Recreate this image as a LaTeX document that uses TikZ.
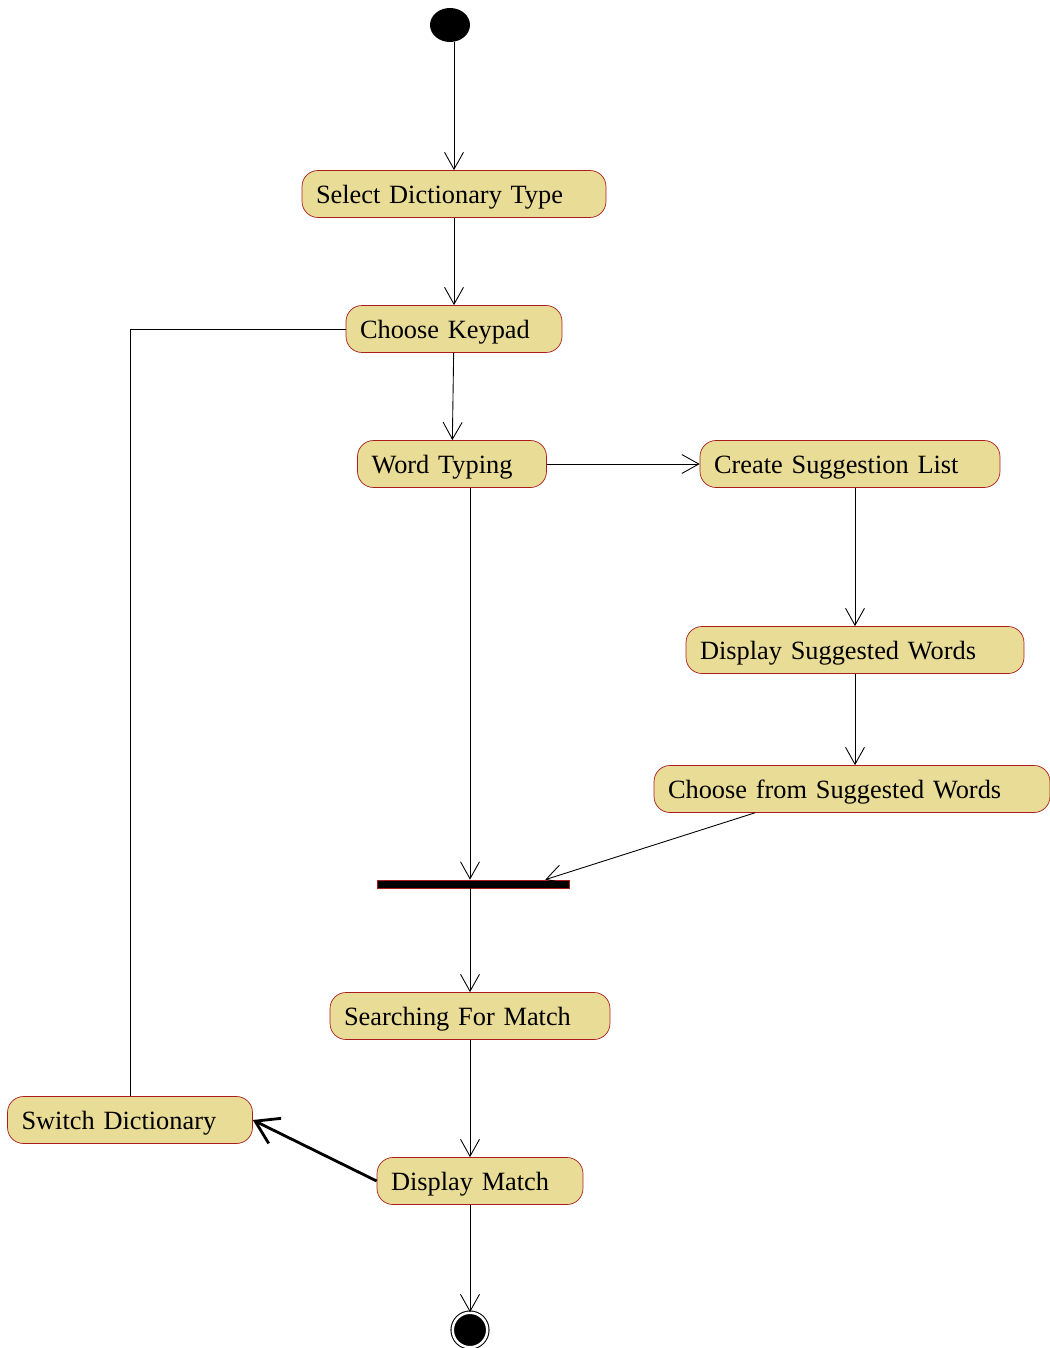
\documentclass[tikz,border=0pt]{standalone}
\usepackage{fontspec}
\setmainfont{Liberation Serif}
\usepackage{tikz}
\usetikzlibrary{arrows.meta,positioning,calc,shapes.geometric}
\definecolor{actfill}{RGB}{232,220,150}
\definecolor{actline}{RGB}{170,30,30}

\begin{document}
\begin{tikzpicture}[x=0.02cm, y=-0.02cm,
  act/.style={rectangle, rounded corners=3.2mm, draw=actline, fill=actfill,
    minimum height=9.4mm, inner xsep=2.8mm, inner ysep=0pt, text width=#1, align=left,
    text height=13.6pt, text depth=3.3pt, font=\fontsize{15}{18}\selectfont},
  flow/.style={line width=0.5pt, -{Straight Barb[length=3.4mm,width=3.8mm]}}]
  \useasboundingbox (0,0) rectangle (1050,1348);

  \node (start) [ellipse, fill=black, minimum width=8mm, minimum height=6.8mm, inner sep=0pt] at (450,25) {};

  \node (sel) [act=55.2mm] at (454,194) {Select Dictionary Type};
  \node (key) [act=37.6mm] at (454,329) {Choose Keypad};
  \node (typ) [act=32.2mm] at (452,464) {Word Typing};
  \node (crt) [act=54.4mm] at (850,464) {Create Suggestion List};
  \node (dsw) [act=62mm] at (855,650) {Display Suggested Words};
  \node (cfw) [act=73.6mm] at (852,789) {Choose from Suggested Words};

  \node (bar) [rectangle, fill=black, draw=actline, minimum width=38.4mm, minimum height=1.6mm, inner sep=0pt] at (473,884) {};

  \node (srch) [act=50.4mm] at (470,1016) {Searching For Match};
  \node (dm) [act=35.6mm] at (480,1181) {Display Match};
  \node (sw) [act=43.4mm] at (130,1120) {Switch Dictionary};

  \node (fin) [circle, fill=black, draw=black, line width=0.6pt, double=white, double distance=0.5mm, minimum size=6.9mm, inner sep=0pt] at (470,1330) {};

  \draw [flow] (sel.north |- start.south) -- (sel.north);
  \draw [flow] (sel) -- (key);
  \draw [flow] (key) -- (typ);
  \draw [flow] (typ) -- (crt);
  \draw [flow] (typ.south -| srch) -- (bar.north -| srch);
  \draw [flow] (crt.south -| dsw.north) -- (dsw.north);
  \draw [flow] (dsw.south) -- (cfw.north -| dsw.south);
  \draw [flow] ($(cfw.south west)!0.255!(cfw.south east)$) -- ($(bar.north west)!0.875!(bar.north east)$);
  \draw [flow] (bar.south -| srch) -- (srch);
  \draw [flow] (srch) -- (dm.north -| srch);
  \draw [flow] (dm.south -| srch) -- (fin);
  \draw [line width=1.6pt, -{Straight Barb[length=4.4mm,width=5.6mm]}] (dm.west) -- (sw.east);
  \draw [line width=0.5pt] (key.west) -| (sw.north);
\end{tikzpicture}
\end{document}
